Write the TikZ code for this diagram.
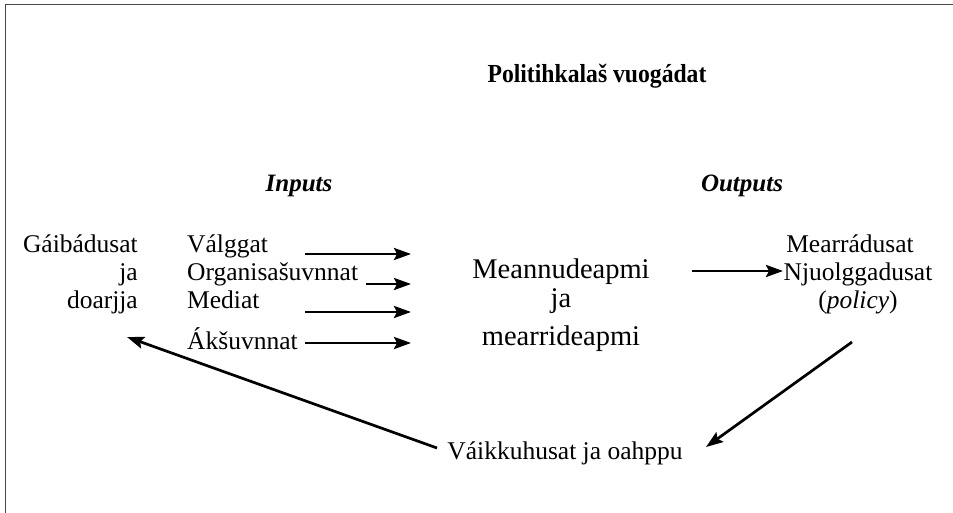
\documentclass[tikz,border=0pt]{standalone}
\usepackage{fontspec}
\setmainfont{Liberation Serif}
\usetikzlibrary{arrows.meta}
\tikzset{
  body/.style={inner sep=0pt, font=\fontsize{25.5}{30}\selectfont},
  big/.style={inner sep=0pt, font=\fontsize{28.5}{32}\selectfont},
  head/.style={inner sep=0pt, font=\fontsize{25}{30}\selectfont\bfseries\itshape},
  titlestyle/.style={inner sep=0pt, font=\fontsize{26}{32}\selectfont\bfseries, xscale=0.91, transform shape},
  conn/.style={line width=2.7pt, -{Stealth[length=17pt,width=12pt,inset=3pt]}},
  frame/.style={line width=1.7pt, draw=black!72}
}
\begin{document}
\begin{tikzpicture}[x=1pt,y=-1pt]
\useasboundingbox (0,0) rectangle (953,513);
\draw[frame] (5.5,513) -- (5.5,4.5) -- (953,4.5);

\node[titlestyle, anchor=base] (title) at (597,83) {Politihkalaš vuogádat};
\node[head, anchor=base] (inputs) at (299,192) {Inputs};
\node[head, anchor=base] (outputs) at (742,192) {Outputs};

% left
\node[body, anchor=base east] (g1) at (138,252) {Gáibádusat};
\node[body, anchor=base east] (g2) at (138,280) {ja};
\node[body, anchor=base east] (g3) at (138,308) {doarjja};

% inputs
\node[body, anchor=base west] (i1) at (187,252) {Válggat};
\node[body, anchor=base west] (i2) at (187,280) {Organisašuvnnat};
\node[body, anchor=base west] (i3) at (187,308) {Mediat};
\node[body, anchor=base west] (i4) at (187,349) {Ákšuvnnat};

% center
\node[big, anchor=base] (c1) at (561,278) {Meannudeapmi};
\node[big, anchor=base] (c2) at (561,307) {ja};
\node[big, anchor=base] (c3) at (561,345) {mearrideapmi};

% outputs
\node[body, anchor=base] (o1) at (850,252) {Mearrádusat};
\node[body, anchor=base] (o2) at (858,280) {Njuolggadusat};
\node[body, anchor=base] (o3) at (858,308) {(\textit{policy})};

% feedback
\node[body, anchor=base] (fb) at (565,459) {Váikkuhusat ja oahppu};

% arrow end points
\coordinate (a1s) at (305,254);
\coordinate (a1e) at (411,254);
\coordinate (a2s) at (366,284);
\coordinate (a2e) at (411,284);
\coordinate (a3s) at (305,312);
\coordinate (a3e) at (411,312);
\coordinate (a4s) at (305,343);
\coordinate (a4e) at (411,343);
\coordinate (ms) at (692,271);
\coordinate (me) at (783,271);
\coordinate (ds) at (852,342);
\coordinate (de) at (706,447);
\coordinate (ls) at (437,448);
\coordinate (le) at (127,337);

\draw[conn] (a1s) -- (a1e);
\draw[conn] (a2s) -- (a2e);
\draw[conn] (a3s) -- (a3e);
\draw[conn] (a4s) -- (a4e);
\draw[conn] (ms) -- (me);
\draw[conn] (ds) -- (de);
\draw[conn] (ls) -- (le);
\end{tikzpicture}
\end{document}
